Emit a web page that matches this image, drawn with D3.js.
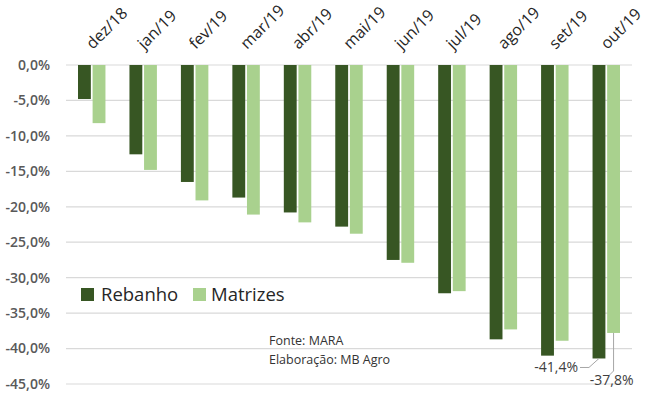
<!DOCTYPE html>
<html>
<head>
<meta charset="utf-8">
<script src="https://cdn.jsdelivr.net/npm/d3@7"></script>
<style>
  body { margin: 0; background: #fff; }
  svg text { font-family: "Open Sans", "Liberation Sans", sans-serif; }
</style>
</head>
<body>
<div id="chart"></div>
<script>
const months = ["dez/18", "jan/19", "fev/19", "mar/19", "abr/19", "mai/19", "jun/19", "jul/19", "ago/19", "set/19", "out/19"];
const rebanho = [-4.8, -12.6, -16.5, -18.7, -20.8, -22.8, -27.5, -32.2, -38.7, -41.0, -41.4];
const matrizes = [-8.2, -14.8, -19.1, -21.1, -22.2, -23.8, -27.9, -31.9, -37.3, -38.9, -37.8];
const yTicks = [0, -5, -10, -15, -20, -25, -30, -35, -40, -45];
const seriesNames = ["Rebanho", "Matrizes"];

const colors = { Rebanho: "#375623", Matrizes: "#a9d18e" };
const width = 650, height = 393;
const margin = { top: 65, right: 18, bottom: 9, left: 66 };

const svg = d3.select("#chart").append("svg")
    .attr("width", width)
    .attr("height", height);

const x = d3.scaleBand().domain(months).range([margin.left, width - margin.right]);
const xInner = d3.scaleBand().domain(seriesNames).range([12, x.bandwidth() - 12]).paddingInner(0.12);
const y = d3.scaleLinear().domain([0, -45]).range([margin.top, height - margin.bottom]);

// gridlines
svg.append("g")
    .selectAll("line").data(yTicks).enter().append("line")
    .attr("x1", margin.left)
    .attr("x2", width - margin.right)
    .attr("y1", d => y(d))
    .attr("y2", d => y(d))
    .attr("stroke", "#d9d9d9")
    .attr("stroke-width", 1.2);

// y axis labels
const fmt = d => d3.format(".1f")(d).replace(".", ",").replace("−", "-") + "%";
svg.append("g")
    .selectAll("text").data(yTicks).enter().append("text")
    .attr("x", 50)
    .attr("y", d => y(d))
    .attr("dy", "0.35em")
    .attr("text-anchor", "end")
    .attr("font-size", 14)
    .attr("font-weight", 600)
    .attr("fill", "#595959")
    .text(d => fmt(d));

// x labels on top
svg.append("g")
    .selectAll("text").data(months).enter().append("text")
    .attr("transform", d => `translate(${x(d) + x.bandwidth() / 2 + 1},${50}) rotate(-45)`)
    .attr("text-anchor", "start")
    .attr("font-size", 16)
    .attr("fill", "#262626")
    .text(d => d);

// bars
const data = months.map((m, i) => ({ month: m, Rebanho: rebanho[i], Matrizes: matrizes[i] }));
const groups = svg.append("g").selectAll("g").data(data).enter().append("g")
    .attr("transform", d => `translate(${x(d.month)},0)`);

groups.selectAll("rect")
    .data(d => seriesNames.map(s => ({ key: s, value: d[s] })))
    .enter().append("rect")
    .attr("x", d => xInner(d.key))
    .attr("y", y(0))
    .attr("width", xInner.bandwidth())
    .attr("height", d => y(d.value) - y(0))
    .attr("fill", d => colors[d.key]);

// legend
const legend = svg.append("g").attr("transform", "translate(81,288)");
legend.append("rect").attr("x", 0).attr("y", 0).attr("width", 13).attr("height", 13).attr("fill", colors.Rebanho);
legend.append("text").attr("x", 20).attr("y", 13).attr("font-size", 18.5).attr("fill", "#262626").text("Rebanho");
legend.append("rect").attr("x", 112).attr("y", 0).attr("width", 13).attr("height", 13).attr("fill", colors.Matrizes);
legend.append("text").attr("x", 130).attr("y", 13).attr("font-size", 18.5).attr("fill", "#262626").text("Matrizes");

// source note
svg.append("text").attr("x", 269).attr("y", 345).attr("font-size", 12.5).attr("fill", "#333").text("Fonte: MARA");
svg.append("text").attr("x", 269).attr("y", 364).attr("font-size", 12.5).attr("fill", "#333").text("Elaboração: MB Agro");

// data labels for last bars
const last = data[data.length - 1];
const darkX = x(last.month) + xInner("Rebanho") + xInner.bandwidth() / 2;
const lightX = x(last.month) + xInner("Matrizes") + xInner.bandwidth() / 2;

svg.append("path")
    .attr("d", `M${darkX},${y(last.Rebanho)} L${darkX - 10},${y(last.Rebanho) + 9} L${darkX - 19},${y(last.Rebanho) + 9}`)
    .attr("fill", "none").attr("stroke", "#a6a6a6").attr("stroke-width", 1);
svg.append("text")
    .attr("x", darkX - 21).attr("y", y(last.Rebanho) + 9).attr("dy", "0.35em")
    .attr("text-anchor", "end").attr("font-size", 14).attr("fill", "#404040")
    .text(fmt(last.Rebanho));

svg.append("path")
    .attr("d", `M${lightX},${y(last.Matrizes)} L${lightX},${y(last.Matrizes) + 38} L${lightX - 4},${y(last.Matrizes) + 42}`)
    .attr("fill", "none").attr("stroke", "#a6a6a6").attr("stroke-width", 1);
svg.append("text")
    .attr("x", lightX + 20).attr("y", y(last.Matrizes) + 47).attr("dy", "0.35em")
    .attr("text-anchor", "end").attr("font-size", 14).attr("fill", "#404040")
    .text(fmt(last.Matrizes));
</script>
</body>
</html>
